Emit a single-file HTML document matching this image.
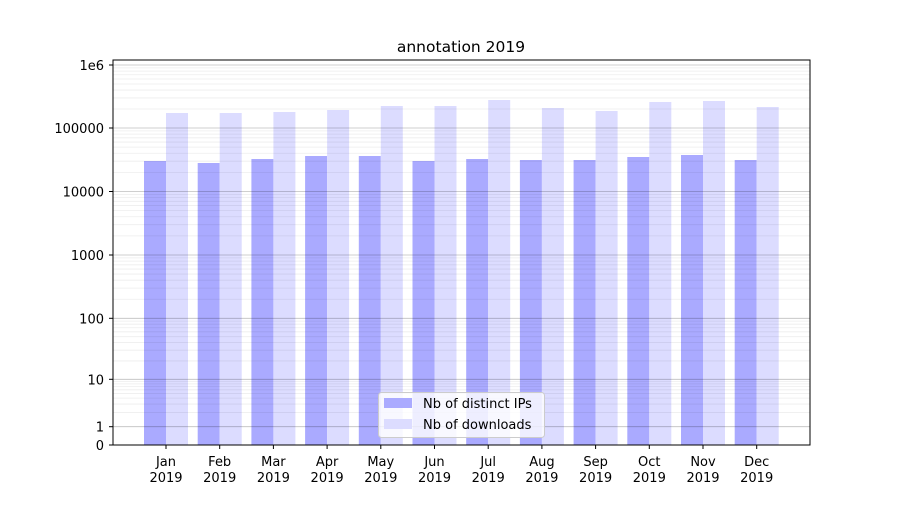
<!DOCTYPE html>
<html><head><meta charset="utf-8"><style>
body{margin:0;background:#fff}
svg text{font-family:"DejaVu Sans","Liberation Sans",sans-serif;font-size:13px;fill:#000}
</style></head><body>
<svg id="s" width="900" height="500" xmlns="http://www.w3.org/2000/svg"></svg>
<script>
const s=document.getElementById('s');
const ticks=[[0,445],[1,426.7],[10,379.3],[100,318.3],[1000,255],[10000,191.5],[100000,128],[1000000,65]];
function Y(v){
 if(v<=1) return 445-v*18.3;
 for(let i=1;i<ticks.length-1;i++){const [a,ya]=ticks[i],[b,yb]=ticks[i+1];
  if(v<=b){const t=Math.log10(v/a);return ya+(yb-ya)*t;}}
 const t=Math.log10(v/1e6);return 65-63*t;
}
let h='';
const blue=[161,163,159,156,156,161,159,160,160,157,155,160];
const light=[113,113,112,110,106,106,100,108,111,102,101,107];
const m=['Jan','Feb','Mar','Apr','May','Jun','Jul','Aug','Sep','Oct','Nov','Dec'];
for(let i=0;i<12;i++){const c=166+i*53.7;
 h+=`<rect x="${c-22}" y="${blue[i]}" width="22" height="${445-blue[i]}" fill="#aaaaff"/>`;
 h+=`<rect x="${c}" y="${light[i]}" width="22" height="${445-light[i]}" fill="#dcdcff"/>`;
 h+=`<line x1="${c}" x2="${c}" y1="445" y2="449" stroke="#000"/>`;
 h+=`<text x="${c}" y="466" text-anchor="middle">${m[i]}</text><text x="${c}" y="482" text-anchor="middle">2019</text>`;}
for(let d=1;d<=1e6;d*=10){for(let k=2;k<=9;k++){const v=d*k;const y=Y(v);if(y<60)continue;
 h+=`<line x1="113" x2="810" y1="${y}" y2="${y}" stroke="#000" stroke-opacity="0.07" stroke-width="0.8"/>`;}}
for(let i=1;i<ticks.length;i++){const y=ticks[i][1];
 h+=`<line x1="113" x2="810" y1="${y}" y2="${y}" stroke="#000" stroke-opacity="0.25" stroke-width="0.8"/>`;}
const lab=['0','1','10','100','1000','10000','100000','1e6'];
ticks.forEach((t,i)=>{h+=`<line x1="109" x2="113" y1="${t[1]}" y2="${t[1]}" stroke="#000"/><text x="104" y="${t[1]+5}" text-anchor="end">${lab[i]}</text>`;});
h+=`<rect x="113" y="60" width="697" height="385" fill="none" stroke="#000" stroke-width="1"/>`;
h+=`<text x="461" y="52" text-anchor="middle" style="font-size:15.5px">annotation 2019</text>`;
h+=`<rect x="378.5" y="392.5" width="166" height="45" rx="3" fill="#fff" fill-opacity="0.8" stroke="#ccc"/>`;
h+=`<rect x="384" y="398" width="28" height="10" fill="#aaaaff"/><text x="423" y="408">Nb of distinct IPs</text>`;
h+=`<rect x="384" y="419" width="28" height="10" fill="#dcdcff"/><text x="423" y="429">Nb of downloads</text>`;
s.innerHTML=h;
</script>
</body></html>
